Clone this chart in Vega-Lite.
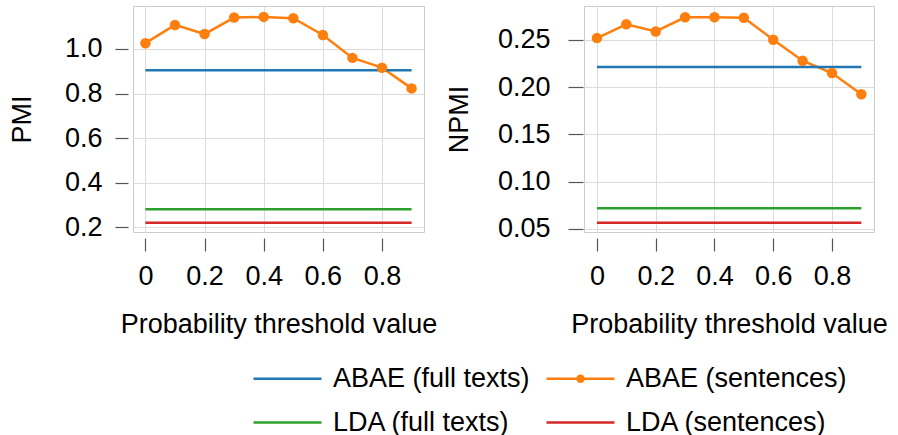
{
  "$schema": "https://vega.github.io/schema/vega-lite/v6.json",
  "background": "white",
  "padding": {"left": 7, "top": 5, "right": 5, "bottom": 0},
  "data": {"values": [
    {"series": "ABAE (sentences)", "t": 0.0, "PMI": 1.026, "NPMI": 0.252},
    {"series": "ABAE (sentences)", "t": 0.1, "PMI": 1.108, "NPMI": 0.2666},
    {"series": "ABAE (sentences)", "t": 0.2, "PMI": 1.067, "NPMI": 0.259},
    {"series": "ABAE (sentences)", "t": 0.3, "PMI": 1.141, "NPMI": 0.274},
    {"series": "ABAE (sentences)", "t": 0.4, "PMI": 1.144, "NPMI": 0.274},
    {"series": "ABAE (sentences)", "t": 0.5, "PMI": 1.138, "NPMI": 0.2736},
    {"series": "ABAE (sentences)", "t": 0.6, "PMI": 1.063, "NPMI": 0.2503},
    {"series": "ABAE (sentences)", "t": 0.7, "PMI": 0.960, "NPMI": 0.228},
    {"series": "ABAE (sentences)", "t": 0.8, "PMI": 0.916, "NPMI": 0.215},
    {"series": "ABAE (sentences)", "t": 0.9, "PMI": 0.823, "NPMI": 0.1925},
    {"series": "ABAE (full texts)", "t": 0.0, "PMI": 0.904, "NPMI": 0.2214},
    {"series": "ABAE (full texts)", "t": 0.9, "PMI": 0.904, "NPMI": 0.2214},
    {"series": "LDA (full texts)", "t": 0.0, "PMI": 0.280, "NPMI": 0.0717},
    {"series": "LDA (full texts)", "t": 0.9, "PMI": 0.280, "NPMI": 0.0717},
    {"series": "LDA (sentences)", "t": 0.0, "PMI": 0.220, "NPMI": 0.0565},
    {"series": "LDA (sentences)", "t": 0.9, "PMI": 0.220, "NPMI": 0.0565}
  ]},
  "config": {
    "font": "Liberation Sans",
    "view": {"stroke": "#cccccc", "strokeWidth": 1},
    "axis": {
      "labelFont": "Liberation Sans",
      "titleFont": "Liberation Sans",
      "labelFontSize": 27,
      "titleFontSize": 27,
      "labelColor": "#000000",
      "titleColor": "#000000",
      "titleFontWeight": "normal",
      "domain": false,
      "tickColor": "#555555",
      "tickWidth": 1.2,
      "tickSize": 13,
      "gridColor": "#dcdcdc",
      "gridWidth": 1,
      "labelFlush": false,
      "labelOverlap": false
    },
    "legend": {
      "labelFont": "Liberation Sans",
      "labelFontSize": 27,
      "labelColor": "#000000",
      "labelLimit": 400
    }
  },
  "bounds": "flush",
  "spacing": 160,
  "resolve": {"scale": {"color": "shared"}},
  "hconcat": [
    {
      "width": 291,
      "height": 226,
      "layer": [
        {
          "mark": {"type": "line", "strokeWidth": 2.5},
          "encoding": {
            "x": {"field": "t", "type": "quantitative",
              "scale": {"domain": [-0.042, 0.942], "nice": false, "zero": false},
              "axis": {"values": [0, 0.2, 0.4, 0.6, 0.8], "format": "~g", "title": "Probability threshold value", "offset": 6, "labelPadding": 12, "titlePadding": 22}},
            "y": {"field": "PMI", "type": "quantitative",
              "scale": {"domain": [0.178, 1.193], "nice": false, "zero": false},
              "axis": {"values": [0.2, 0.4, 0.6, 0.8, 1.0], "format": ".1f", "title": "PMI", "offset": 5, "labelPadding": 13, "titlePadding": 28}},
            "color": {"field": "series", "type": "nominal",
              "scale": {"domain": ["ABAE (full texts)", "ABAE (sentences)", "LDA (full texts)", "LDA (sentences)"],
                        "range": ["#1f77b4", "#ff7f0e", "#2ca02c", "#d62728"]},
              "legend": {
                "title": null,
                "orient": "none",
                "direction": "horizontal",
                "legendX": 119,
                "legendY": 354,
                "columns": 2,
                "padding": 0,
                "symbolType": "stroke",
                "symbolSize": 1156,
                "symbolStrokeWidth": 2.5,
                "labelOffset": 44,
                "columnPadding": 11,
                "rowPadding": 12,
                "encode": {
                  "symbols": {"update": {
                    "shape": {"signal": "datum.value === 'ABAE (sentences)' ? 'M-1,0H3M0.82,0A0.18,0.18,0,1,0,1.18,0A0.18,0.18,0,1,0,0.82,0' : 'M-1,0H3'"},
                    "fill": {"signal": "datum.value === 'ABAE (sentences)' ? '#ff7f0e' : 'transparent'"}
                  }}
                }
              }}
          }
        },
        {
          "transform": [{"filter": "datum.series === 'ABAE (sentences)'"}],
          "mark": {"type": "point", "filled": true, "size": 110, "opacity": 1, "color": "#ff7f0e"},
          "encoding": {
            "x": {"field": "t", "type": "quantitative"},
            "y": {"field": "PMI", "type": "quantitative"}
          }
        }
      ]
    },
    {
      "width": 290,
      "height": 226,
      "layer": [
        {
          "mark": {"type": "line", "strokeWidth": 2.5},
          "encoding": {
            "x": {"field": "t", "type": "quantitative",
              "scale": {"domain": [-0.044, 0.943], "nice": false, "zero": false},
              "axis": {"values": [0, 0.2, 0.4, 0.6, 0.8], "format": "~g", "title": "Probability threshold value", "offset": 6, "labelPadding": 12, "titlePadding": 22}},
            "y": {"field": "NPMI", "type": "quantitative",
              "scale": {"domain": [0.0466, 0.286], "nice": false, "zero": false},
              "axis": {"values": [0.05, 0.1, 0.15, 0.2, 0.25], "format": ".2f", "title": "NPMI", "offset": 1, "tickSize": 15, "labelPadding": 18, "titlePadding": 24}},
            "color": {"field": "series", "type": "nominal"}
          }
        },
        {
          "transform": [{"filter": "datum.series === 'ABAE (sentences)'"}],
          "mark": {"type": "point", "filled": true, "size": 110, "opacity": 1, "color": "#ff7f0e"},
          "encoding": {
            "x": {"field": "t", "type": "quantitative"},
            "y": {"field": "NPMI", "type": "quantitative"}
          }
        }
      ]
    }
  ]
}
